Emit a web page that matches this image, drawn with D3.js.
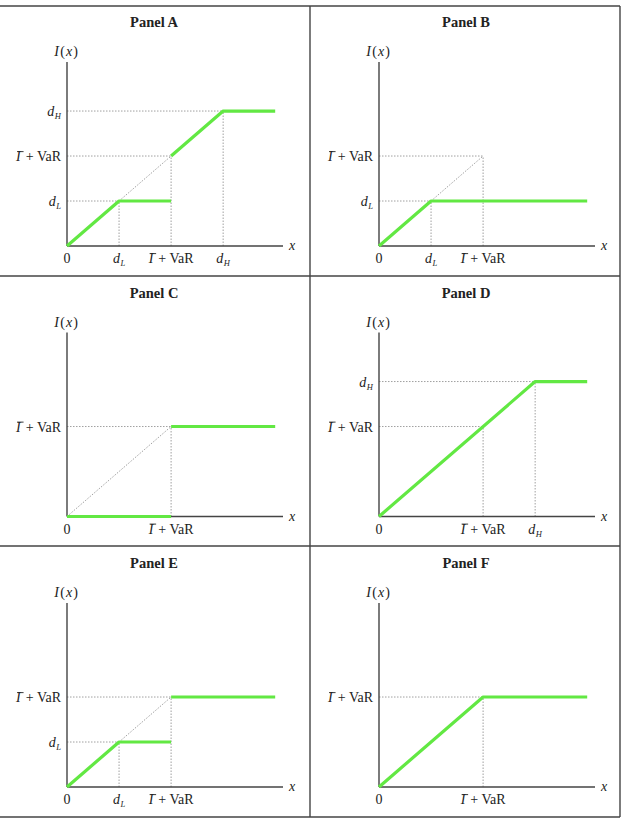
<!DOCTYPE html>
<html>
<head>
<meta charset="utf-8">
<script src="https://cdn.jsdelivr.net/npm/d3@7"></script>
<style>
  body { margin: 0; background: #fff; }
  text { font-family: "Liberation Serif", "Times New Roman", serif; fill: #222; }
</style>
</head>
<body>
<svg class="chart"></svg>
<script>
// data: symbolic levels on both axes (dL < I+VaR < dH), the payoff I(x) per panel
var panelNames = ["Panel A", "Panel B", "Panel C", "Panel D", "Panel E", "Panel F"];
var levelKeys = ["dL", "IV", "dH"];
var levelValues = [1, 2, 3];
var xEnd = 4;

// which levels get a tick and dotted guide in each panel
var panelLevels = [
  ["dL", "IV", "dH"],
  ["dL", "IV"],
  ["IV"],
  ["IV", "dH"],
  ["dL", "IV"],
  ["IV"]
];

// green payoff segments, [x, I(x)] points
var panelPayoff = [
  [[[0, 0], [1, 1], [2, 1]], [[2, 2], [3, 3], [xEnd, 3]]],
  [[[0, 0], [1, 1], [xEnd, 1]]],
  [[[0, 0], [2, 0]], [[2, 2], [xEnd, 2]]],
  [[[0, 0], [3, 3], [xEnd, 3]]],
  [[[0, 0], [1, 1], [2, 1]], [[2, 2], [xEnd, 2]]],
  [[[0, 0], [2, 2], [xEnd, 2]]]
];

// dotted 45 degree line (from, to) where the payoff leaves it
var panelDiagonal = [[1, 2], [1, 2], [0, 2], null, [1, 2], null];

var width = 624, height = 823;
var cellW = 310, rowTop = [6, 276, 546], rowBottom = 817;
var margin = { left: 67, top: 62 };
var plotW = 216, plotH = 184;

var levelOf = {};
levelKeys.forEach(function(k, i) { levelOf[k] = levelValues[i]; });

var svg = d3.select(".chart")
  .attr("width", width)
  .attr("height", height);

// table frame
var frame = svg.append("g")
  .attr("stroke", "#444")
  .attr("stroke-width", 1.4);
rowTop.concat([rowBottom]).forEach(function(y) {
  frame.append("line").attr("x1", 0).attr("x2", 2 * cellW).attr("y1", y).attr("y2", y);
});
[cellW, 2 * cellW].forEach(function(x) {
  frame.append("line").attr("x1", x).attr("x2", x).attr("y1", rowTop[0]).attr("y2", rowBottom);
});

var x = d3.scaleLinear().domain([0, 4.15]).range([0, plotW]);
var y = d3.scaleLinear().domain([0, 4.09]).range([plotH, 0]);
var line = d3.line().x(function(d) { return x(d[0]); }).y(function(d) { return y(d[1]); });

var bars = []; // tspans of "I" that need an overbar

function label(text, key) {
  if (key === "IV") {
    var ti = text.append("tspan").style("font-style", "italic").text("I");
    bars.push(ti);
    text.append("tspan").attr("dx", 1.5).text(" + VaR");
  } else if (key === "dL" || key === "dH") {
    text.append("tspan").style("font-style", "italic").text("d");
    text.append("tspan").style("font-style", "italic")
      .attr("font-size", 8.5).attr("dx", 0.5).attr("dy", 3).text(key[1]);
  } else {
    text.text(key);
  }
}

panelNames.forEach(function(name, i) {
  var col = i % 2, row = Math.floor(i / 2);
  var cell = svg.append("g")
    .attr("transform", "translate(" + (col * 312) + "," + (rowTop[row] - 6 + row * 0.5) + ")");

  cell.append("text")
    .attr("x", cellW / 2 - 1)
    .attr("y", 27)
    .attr("text-anchor", "middle")
    .attr("font-size", 14.5)
    .attr("font-weight", "bold")
    .text(name);

  var g = cell.append("g")
    .attr("transform", "translate(" + margin.left + "," + margin.top + ")");

  var levels = panelLevels[i];

  // dotted guides
  var guides = g.append("g")
    .attr("stroke", "#888")
    .attr("stroke-width", 0.8)
    .attr("stroke-dasharray", "1.5,1.5")
    .attr("fill", "none");
  levels.forEach(function(k) {
    var v = levelOf[k];
    guides.append("line").attr("x1", x(0)).attr("x2", x(v)).attr("y1", y(v)).attr("y2", y(v));
    guides.append("line").attr("x1", x(v)).attr("x2", x(v)).attr("y1", y(0)).attr("y2", y(v));
  });
  if (panelDiagonal[i]) {
    var dg = panelDiagonal[i];
    guides.append("path").attr("d", line([[dg[0], dg[0]], [dg[1], dg[1]]]));
  }

  // axes
  var axes = g.append("g").attr("stroke", "#444").attr("stroke-width", 1.4);
  axes.append("line").attr("x1", x(0)).attr("x2", x(0)).attr("y1", 0).attr("y2", plotH);
  axes.append("line").attr("x1", x(0)).attr("x2", plotW).attr("y1", plotH).attr("y2", plotH);

  // payoff
  g.append("g").selectAll("path")
    .data(panelPayoff[i])
    .join("path")
    .attr("d", line)
    .attr("fill", "none")
    .attr("stroke", "#62e843")
    .attr("stroke-width", 3.2)
    .attr("stroke-linejoin", "round");

  // axis titles
  var yt = g.append("text")
    .attr("x", -1)
    .attr("y", -6)
    .attr("text-anchor", "middle")
    .attr("font-size", 14);
  yt.append("tspan").style("font-style", "italic").text("I");
  yt.append("tspan").attr("dx", 1.5).text("(");
  yt.append("tspan").attr("dx", 1).style("font-style", "italic").text("x");
  yt.append("tspan").attr("dx", 1).text(")");

  g.append("text")
    .attr("x", plotW + 6)
    .attr("y", plotH + 4)
    .attr("font-size", 14)
    .style("font-style", "italic")
    .text("x");

  // tick labels
  ["0"].concat(levels).forEach(function(k) {
    var v = k === "0" ? 0 : levelOf[k];
    var t = g.append("text")
      .attr("x", x(v))
      .attr("y", plotH + 17)
      .attr("text-anchor", "middle")
      .attr("font-size", 14);
    label(t, k);
  });
  levels.forEach(function(k) {
    var t = g.append("text")
      .attr("x", -6)
      .attr("y", y(levelOf[k]) + 5)
      .attr("text-anchor", "end")
      .attr("font-size", 14);
    label(t, k);
  });
});

// overbar on I, placed from the rendered glyph box
bars.forEach(function(ti) {
  var b = ti.node().getBBox();
  var parent = d3.select(ti.node().parentNode.parentNode);
  parent.append("line")
    .attr("x1", b.x + 2).attr("x2", b.x + b.width + 1.5)
    .attr("y1", b.y + 2.6).attr("y2", b.y + 2.6)
    .attr("stroke", "#222")
    .attr("stroke-width", 0.9);
});
</script>
</body>
</html>
